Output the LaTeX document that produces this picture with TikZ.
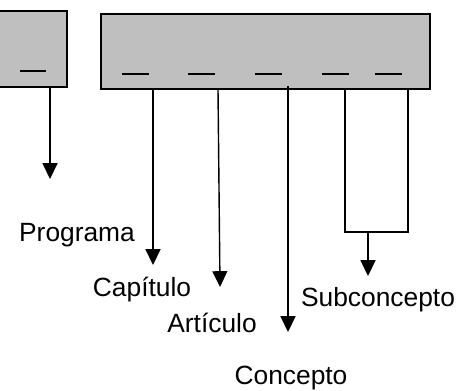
\documentclass[tikz,border=0pt]{standalone}
\usepackage{fontspec}
\setmainfont{Liberation Sans}
\usetikzlibrary{shapes,arrows.meta}
\usetikzlibrary{positioning}

\tikzset{
  caja/.style={rectangle, draw, fill=black!25, line width=0.8pt, inner sep=0pt},
  flecha/.style={line width=0.8pt, -{Triangle[length=9pt,width=8.5pt]}},
  raya/.style={line width=1.2pt},
  etiqueta/.style={font=\fontsize{15}{18}\selectfont, inner sep=0pt}
}

\begin{document}
\begin{tikzpicture}[x=0.02cm,y=-0.02cm]
        \useasboundingbox (0,0) rectangle (475,390);
        \clip (0,0) rectangle (475,390);

        \node at (18.5,49) [caja, minimum width=1.94cm, minimum height=1.52cm] (programaBox) {};
        \node at (265.5,51.5) [caja, minimum width=6.58cm, minimum height=1.5cm] (documentoBox) {};

        % rayas dentro de las cajas
        \draw[raya] (20,71) -- (46,71);
        \foreach \xa in {122,188,255,322,375}
            \draw[raya] (\xa,74) -- ++(27,0);

        \node at (77,235) [etiqueta] (programa) {Programa};
        \node at (142,290) [etiqueta] (capitulo) {Capítulo};
        \node at (212,323) [etiqueta] (articulo) {Artículo};
        \node at (291,378) [etiqueta] (concepto) {Concepto};
        \node at (378,300) [etiqueta] (subconcepto) {Subconcepto};

        \coordinate (progEnd) at (50,179);
        \coordinate (capEnd) at (153,265);
        \coordinate (artEnd) at (220,287);
        \coordinate (concEnd) at (288,332);
        \coordinate (subIzq) at (345,232);
        \coordinate (subDer) at (408,232);
        \coordinate (subMed) at (368,232);
        \coordinate (subEnd) at (368,276);

        \draw[flecha] (programaBox.south -| progEnd) -- (progEnd);
        \draw[flecha] (documentoBox.south -| capEnd) -- (capEnd);
        \draw[flecha] (documentoBox.south -| 218,0) -- (artEnd);
        \draw[flecha] (288,86) -- (concEnd);

        \draw[line width=0.8pt] (documentoBox.south -| subIzq) -- (subIzq) -- (subDer) -- (documentoBox.south -| subDer);
        \draw[flecha] (subMed) -- (subEnd);
    \end{tikzpicture}
\end{document}
